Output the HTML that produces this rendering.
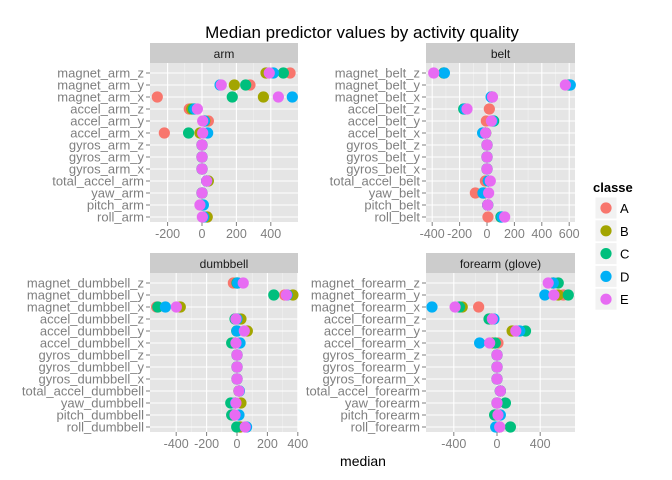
<!DOCTYPE html>
<html><head><meta charset="utf-8"><style>
body{margin:0;background:#fff;}
svg{display:block;font-family:"Liberation Sans",Arial,sans-serif;}
</style></head><body>
<svg id="chart" width="672" height="480" viewBox="0 0 672 480">
<rect width="672" height="480" fill="#fff"/>
<text x="362" y="38" text-anchor="middle" font-size="17" fill="#000">Median predictor values by activity quality</text>
<text x="363" y="466" text-anchor="middle" font-size="14" fill="#000">median</text>
<g>
<text x="593" y="192" font-size="13" font-weight="bold" fill="#000">classe</text>
<g id="legendItems"></g>
</g>
<g id="panels"></g>
</svg>
<script>
const classes = ["A","B","C","D","E"];
const colors = ["#F8766D","#A3A500","#00BF7D","#00B0F6","#E76BF3"];
const armVars = ["magnet_arm_z","magnet_arm_y","magnet_arm_x","accel_arm_z","accel_arm_y","accel_arm_x","gyros_arm_z","gyros_arm_y","gyros_arm_x","total_accel_arm","yaw_arm","pitch_arm","roll_arm"];
const beltVars = ["magnet_belt_z","magnet_belt_y","magnet_belt_x","accel_belt_z","accel_belt_y","accel_belt_x","gyros_belt_z","gyros_belt_y","gyros_belt_x","total_accel_belt","yaw_belt","pitch_belt","roll_belt"];
const dumbbellVars = ["magnet_dumbbell_z","magnet_dumbbell_y","magnet_dumbbell_x","accel_dumbbell_z","accel_dumbbell_y","accel_dumbbell_x","gyros_dumbbell_z","gyros_dumbbell_y","gyros_dumbbell_x","total_accel_dumbbell","yaw_dumbbell","pitch_dumbbell","roll_dumbbell"];
const forearmVars = ["magnet_forearm_z","magnet_forearm_y","magnet_forearm_x","accel_forearm_z","accel_forearm_y","accel_forearm_x","gyros_forearm_z","gyros_forearm_y","gyros_forearm_x","total_accel_forearm","yaw_forearm","pitch_forearm","roll_forearm"];
// values per class (A..E), rows in the same order as the variable lists
const armValues = [
 [512,279,-260,-74,37,-219,0,0,0,27,0,0,30],
 [372,188,357,-60,17,-12,0,0,0,37,0,0,30],
 [473,254,176,-50,12,-78,0,0,0,27,0,0,10],
 [415,105,525,-41,14,33,0,0,0,27,0,8,10],
 [391,112,444,-27,4,4,0,0,0,27,0,-12,2]];
const beltValues = [
 [-315,600,36,17,-5,-10,0,0,0,-12,-85,5,7],
 [-315,600,36,-160,40,-10,0,0,0,10,-20,5,102],
 [-315,600,36,-170,49,-10,0,0,0,10,-29,5,102],
 [-311,608,30,-160,40,-32,0,0,0,10,-29,5,110],
 [-389,572,40,-146,32,-10,0,0,0,24,12,5,129]];
const dumbbellValues = [
 [-24,314,-529,0,0,-10,0,0,0,13,-10,-20,20],
 [0,368,-373,26,68,-10,0,0,0,13,26,-20,20],
 [0,242,-521,-13,-2,-35,0,0,0,13,-41,-35,-2],
 [4,330,-471,0,0,20,0,0,0,16,-10,13,63],
 [41,325,-399,-7,48,-7,0,0,0,13,-7,-13,54]];
const forearmValues = [
 [521,614,-170,-50,180,9,0,0,0,31,0,0,20],
 [521,567,-322,-50,140,-40,0,0,0,31,0,0,20],
 [567,660,-347,-74,264,-16,0,0,0,31,78,-22,124],
 [521,443,-602,-28,211,-161,0,0,0,31,0,31,-12],
 [474,527,-388,-43,174,-68,0,0,0,31,0,9,25]];
const armTicks = [-200,0,200,400];
const beltTicks = [-400,-200,0,200,400,600];
const dumbbellTicks = [-400,-200,0,200,400];
const forearmTicks = [-400,0,400];
const panelTitles = ["arm","belt","dumbbell","forearm (glove)"];

const NS="http://www.w3.org/2000/svg";
function mk(tag,attrs,parent){const e=document.createElementNS(NS,tag);for(const k in attrs)e.setAttribute(k,attrs[k]);parent.appendChild(e);return e;}
const root=document.getElementById('panels');
const panels=[
 {name:"arm",vars:armVars,vals:armValues,ticks:armTicks,x0:150,x1:298,zero:202,scale:0.172,top:43},
 {name:"belt",vars:beltVars,vals:beltValues,ticks:beltTicks,x0:426,x1:575,zero:487,scale:0.137,top:43},
 {name:"dumbbell",vars:dumbbellVars,vals:dumbbellValues,ticks:dumbbellTicks,x0:150,x1:298,zero:237,scale:0.152,top:253},
 {name:"forearm",vars:forearmVars,vals:forearmValues,ticks:forearmTicks,x0:426,x1:575,zero:497,scale:0.108,top:253}];
panels.forEach((p,pi)=>{
 const xs=v=>p.zero+v*p.scale;
 const stripH=20, plotTop=p.top+stripH, plotBot=p.top+179;
 const ys=i=>plotTop+10+i*12;
 const g=mk('g',{},root);
 
 
 const strip=mk('rect',{x:p.x0,y:p.top,width:p.x1-p.x0,height:stripH,fill:'#CCCCCC'},g);
 
 
 const st=mk('text',{x:(p.x0+p.x1)/2,y:p.top+15,'text-anchor':'middle','font-size':'12',fill:'#1a1a1a'},g);
 st.textContent=panelTitles[pi];
 
 
 const bg=mk('rect',{x:p.x0,y:plotTop,width:p.x1-p.x0,height:plotBot-plotTop,fill:'#E5E5E5'},g);
 
 
 for(let k=0;k<p.ticks.length-1;k++){
  const mx=xs((p.ticks[k]+p.ticks[k+1])/2);
  mk('line',{x1:mx,x2:mx,y1:plotTop,y2:plotBot,stroke:'#F2F2F2','stroke-width':0.6},g);
 }
 p.ticks.forEach(t=>{
  const x=xs(t);
  mk('line',{x1:x,x2:x,y1:plotTop,y2:plotBot,stroke:'#fff','stroke-width':1.1},g);
  mk('line',{x1:x,x2:x,y1:plotBot,y2:plotBot+4,stroke:'#7f7f7f','stroke-width':1},g);
  const tl=mk('text',{x:x,y:plotBot+16,'text-anchor':'middle','font-size':'12.5',fill:'#7f7f7f'},g);
  tl.textContent=t;
  
  
 });
 p.vars.forEach((v,i)=>{
  const y=ys(i);
  mk('line',{x1:p.x0,x2:p.x1,y1:y,y2:y,stroke:'#fff','stroke-width':1.1},g);
  mk('line',{x1:p.x0-4,x2:p.x0,y1:y,y2:y,stroke:'#7f7f7f','stroke-width':1},g);
  const lb=mk('text',{x:p.x0-6,y:y+4.5,'text-anchor':'end','font-size':'13',fill:'#7f7f7f'},g);
  lb.textContent=v;
  
  
 });
 p.vals.forEach((arr,ci)=>{
  arr.forEach((val,i)=>{
   const c=mk('circle',{cx:xs(val),cy:ys(i),r:5.6,fill:colors[ci]},g);
   
   
  });
 });
});
const lg=document.getElementById('legendItems');
classes.forEach((c,i)=>{
 const y=197+i*22.8;
 const r=mk('rect',{x:595,y:y,width:22,height:22,fill:'#F2F2F2',stroke:'#fff','stroke-width':1},lg);
 
 
 const d=mk('circle',{cx:606,cy:y+11,r:5.6,fill:colors[i]},lg);
 
 
 const t=mk('text',{x:620,y:y+16,'font-size':'13',fill:'#000'},lg);
 t.textContent=c;
 
 
});
</script>
</body></html>
